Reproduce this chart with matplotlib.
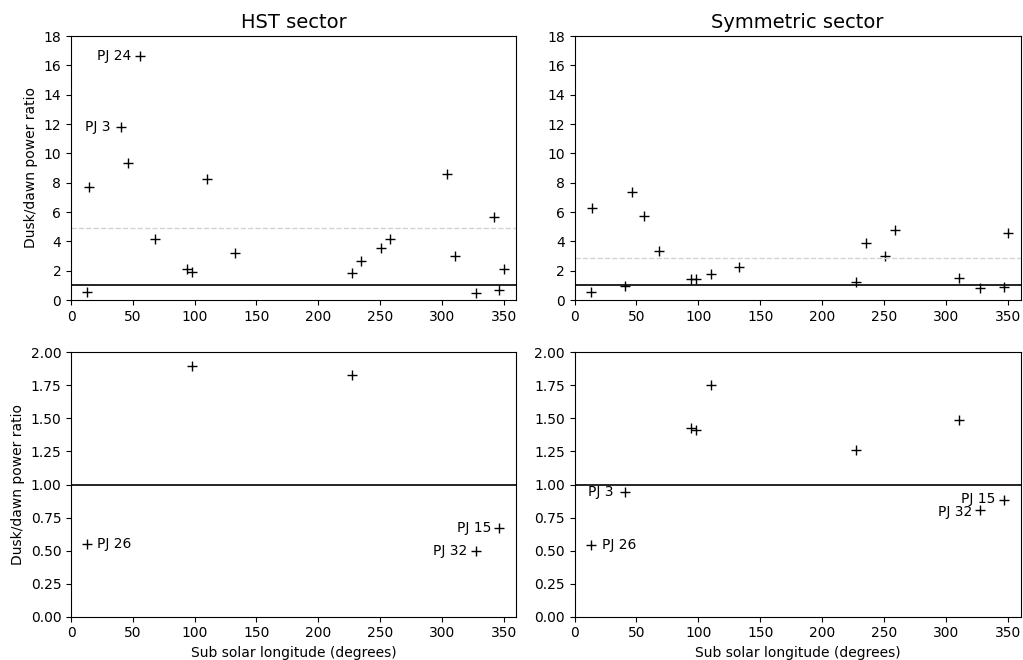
import numpy as np
import matplotlib
matplotlib.use("Agg")
import matplotlib.pyplot as plt

# sub solar longitude of each perijove (degrees)
lon = [13.2, 14.2, 40.8, 46.5, 55.7, 68.1, 93.7, 98.2, 110.0, 132.4,
       227.2, 235.0, 250.8, 258.4, 304.2, 310.5, 327.4, 342.6, 346.5, 350.3]

# dusk/dawn power ratio, HST sector
ratio_hst = [0.55, 7.72, 11.82, 9.34, 16.63, 4.16, 2.11, 1.90, 8.27, 3.18,
             1.83, 2.66, 3.55, 4.16, 8.57, 2.98, 0.50, 5.64, 0.67, 2.11]

# dusk/dawn power ratio, symmetric sector (nan = not available)
ratio_sym = [0.54, 6.27, 0.94, 7.34, 5.73, 3.36, 1.43, 1.415, 1.75, 2.25,
             1.26, 3.91, 2.98, 4.79, np.nan, 1.49, 0.81, np.nan, 0.88, 4.54]

# perijove names for the labelled points
pj_names = {0: "PJ 26", 2: "PJ 3", 4: "PJ 24", 16: "PJ 32", 18: "PJ 15"}

# which points get labelled in each panel, and text offset (points)
labels_top_hst = [(4, -6, 0), (2, -8, 0)]
labels_top_sym = []
labels_bot_hst = [(0, 7, 0), (18, -6, 0), (16, -6, 0)]
labels_bot_sym = [(2, -8, 0), (0, 8, 0), (18, -6, 1), (16, -6, -2)]

fig = plt.figure(figsize=(10.23, 6.6), dpi=100)

W, H = 1023, 660
boxes = {
    "tl": [71 / W, 1 - 300 / H, 445 / W, 264 / H],
    "tr": [574.5 / W, 1 - 300 / H, 446 / W, 264 / H],
    "bl": [71 / W, 1 - 616.7 / H, 445 / W, 264.4 / H],
    "br": [574.5 / W, 1 - 616.7 / H, 446 / W, 264.4 / H],
}


def panel(ax, ratio, ymax, yticks, labels, mean_line):
    ax.plot(lon, ratio, "k+", markersize=7, markeredgewidth=1.0, linestyle="none")
    ax.axhline(1, color="k", lw=1.2)
    if mean_line:
        ax.axhline(np.nanmean(ratio), color="lightgrey", lw=1, ls="--")
    for idx, dx, dy in labels:
        ax.annotate(pj_names[idx], (lon[idx], ratio[idx]), xytext=(dx, dy),
                    textcoords="offset points", ha="right" if dx < 0 else "left",
                    va="center", fontsize=10)
    ax.set_xlim(0, 360)
    ax.set_ylim(0, ymax)
    ax.set_yticks(yticks)
    ax.set_xticks(np.arange(0, 351, 50))


ax_tl = fig.add_axes(boxes["tl"])
panel(ax_tl, ratio_hst, 18, np.arange(0, 19, 2), labels_top_hst, True)
ax_tl.set_title("HST sector", fontsize=14)
ax_tl.set_ylabel("Dusk/dawn power ratio")

ax_tr = fig.add_axes(boxes["tr"])
panel(ax_tr, ratio_sym, 18, np.arange(0, 19, 2), labels_top_sym, True)
ax_tr.set_title("Symmetric sector", fontsize=14)

ax_bl = fig.add_axes(boxes["bl"])
panel(ax_bl, ratio_hst, 2, np.arange(0, 2.01, 0.25), labels_bot_hst, False)
ax_bl.set_ylabel("Dusk/dawn power ratio")
ax_bl.set_xlabel("Sub solar longitude (degrees)")

ax_br = fig.add_axes(boxes["br"])
panel(ax_br, ratio_sym, 2, np.arange(0, 2.01, 0.25), labels_bot_sym, False)
ax_br.set_xlabel("Sub solar longitude (degrees)")

for ax in (ax_bl, ax_br):
    ax.yaxis.set_major_formatter(matplotlib.ticker.FormatStrFormatter("%.2f"))

fig.savefig("out.png", dpi=100)
